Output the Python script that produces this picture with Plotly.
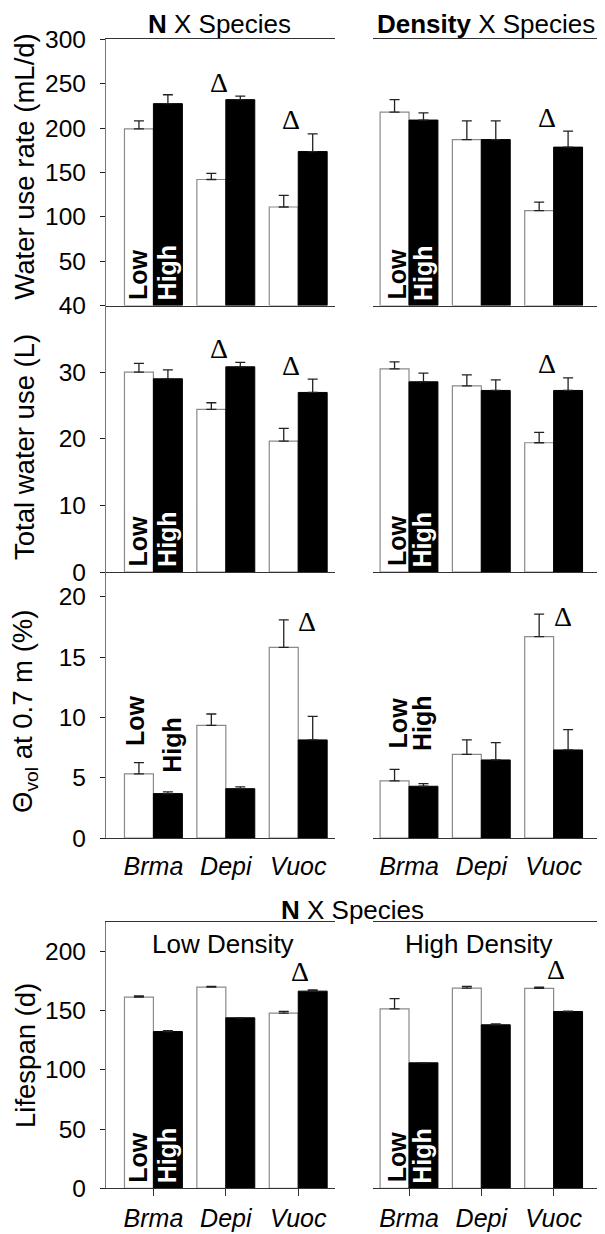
import plotly.graph_objects as go

# ---------------- data ----------------
species = ["Brma", "Depi", "Vuoc"]

rate_n_low = [199, 142, 111]
rate_n_low_se = [9, 7, 13]
rate_n_high = [227.5, 232, 173.5]
rate_n_high_se = [10, 4, 20]
rate_d_low = [218, 187, 107]
rate_d_low_se = [14, 21, 9.5]
rate_d_high = [209, 187, 178.5]
rate_d_high_se = [8, 21, 18]

total_n_low = [30.0, 24.4, 19.65]
total_n_low_se = [1.3, 1.0, 1.9]
total_n_high = [29.0, 30.8, 26.95]
total_n_high_se = [1.35, 0.65, 2.0]
total_d_low = [30.5, 27.95, 19.4]
total_d_low_se = [1.05, 1.65, 1.55]
total_d_high = [28.55, 27.25, 27.25]
total_d_high_se = [1.3, 1.6, 1.9]

theta_n_low = [5.31, 9.34, 15.81]
theta_n_low_se = [0.94, 0.94, 2.27]
theta_n_high = [3.68, 4.09, 8.13]
theta_n_high_se = [0.14, 0.14, 1.96]
theta_d_low = [4.73, 6.94, 16.7]
theta_d_low_se = [0.96, 1.19, 1.85]
theta_d_high = [4.29, 6.47, 7.3]
theta_d_high_se = [0.22, 1.43, 1.68]

life_lowd_low = [161.3, 169.8, 147.8]
life_lowd_low_se = [1.0, 0.5, 1.5]
life_lowd_high = [132.3, 143.9, 166.4]
life_lowd_high_se = [0.8, 0.0, 1.0]
life_highd_low = [151.5, 168.9, 168.7]
life_highd_low_se = [8.5, 1.5, 1.0]
life_highd_high = [105.9, 138.0, 149.2]
life_highd_high_se = [0.0, 0.8, 0.4]

# significant interaction (Δ) per species
rate_n_sig = [0, 1, 1]
rate_d_sig = [0, 0, 1]
total_n_sig = [0, 1, 1]
total_d_sig = [0, 0, 1]
theta_n_sig = [0, 0, 1]
theta_d_sig = [0, 0, 1]
life_lowd_sig = [0, 0, 1]
life_highd_sig = [0, 0, 1]

y_titles = ["Water use rate (mL/d)", "Total water use (L)",
            "Θ<sub>vol</sub> at 0.7 m (%)", "Lifespan (d)"]
y_ranges = [[0, 300], [0, 40], [0, 22.05], [0, 225]]
y_ticks = [[0, 50, 100, 150, 200, 250, 300], [0, 10, 20, 30, 40],
           [0, 5, 10, 15, 20], [0, 50, 100, 150, 200]]

panels = [
    [(rate_n_low, rate_n_low_se, rate_n_high, rate_n_high_se, rate_n_sig),
     (rate_d_low, rate_d_low_se, rate_d_high, rate_d_high_se, rate_d_sig)],
    [(total_n_low, total_n_low_se, total_n_high, total_n_high_se, total_n_sig),
     (total_d_low, total_d_low_se, total_d_high, total_d_high_se, total_d_sig)],
    [(theta_n_low, theta_n_low_se, theta_n_high, theta_n_high_se, theta_n_sig),
     (theta_d_low, theta_d_low_se, theta_d_high, theta_d_high_se, theta_d_sig)],
    [(life_lowd_low, life_lowd_low_se, life_lowd_high, life_lowd_high_se, life_lowd_sig),
     (life_highd_low, life_highd_low_se, life_highd_high, life_highd_high_se, life_highd_sig)],
]

# ---------------- layout geometry (screen pixels) ----------------
OFF = 8                      # browser default body margin
W, H = 605 - OFF, 1234 - OFF
FONT = "Liberation Sans"
SERIF = "Liberation Serif"
x_px = [(106, 335), (373, 602)]
x_rng = [[-0.655, 2.508], [-0.498, 2.669]]
y_px = [(39.3, 305.5), (305.5, 572), (572, 838), (921.7, 1188.3)]

def px_x(a):
    return (a - OFF) / W

def px_y(a):
    return 1 - (a - OFF) / H

def xd(a, b):
    return [px_x(a), px_x(b)]

def yd(top, bot):
    return [px_y(bot), px_y(top)]

fig = go.Figure()
layout = dict(
    width=W, height=H, margin=dict(l=0, r=0, t=0, b=0),
    template="none", paper_bgcolor="white", plot_bgcolor="white",
    showlegend=False, barmode="group", bargap=0.2, bargroupgap=0,
    font=dict(family=FONT, size=24, color="black"),
)
annotations = []

# Δ placement style per panel: (xshift, yshift)
delta_style = [(-7, 14), (-7, 14), (9, -2), (2, 18)]

for p in range(4):
    for s in range(2):
        k = p * 2 + s + 1
        xa, ya = f"x{k}", f"y{k}"
        low, low_se, high, high_se, sig = panels[p][s]
        fig.add_trace(go.Bar(
            x=[0, 1, 2], y=low, xaxis=xa, yaxis=ya,
            marker=dict(color="white", line=dict(color="#8a8a8a", width=1.2)),
            error_y=dict(type="data", array=low_se, arrayminus=[0, 0, 0],
                         symmetric=False, color="#222", thickness=1.3, width=5),
        ))
        fig.add_trace(go.Bar(
            x=[0, 1, 2], y=high, xaxis=xa, yaxis=ya,
            marker=dict(color="black", line=dict(color="black", width=1)),
            error_y=dict(type="data", array=high_se, arrayminus=[0, 0, 0],
                         symmetric=False, color="#222", thickness=1.3, width=5),
        ))
        show_xlab = p >= 2
        layout[f"xaxis{k}"] = dict(
            domain=xd(*x_px[s]), range=x_rng[s], anchor=ya,
            showline=True, linecolor="#333", linewidth=1.2,
            mirror=(p in (0, 3)), showgrid=False, zeroline=False,
            tickvals=[0, 1, 2], ticktext=[f"<i>{sp}</i>" for sp in species],
            showticklabels=show_xlab,
            ticks="outside" if p == 3 else "", ticklen=7, tickcolor="#333",
            tickfont=dict(size=25), ticklabelstandoff=1 if p == 3 else 6,
            fixedrange=True,
        )
        ydict = dict(
            domain=yd(*y_px[p]), range=y_ranges[p], anchor=xa,
            showline=True, showgrid=False, zeroline=False,
            tickvals=y_ticks[p], ticks="outside", fixedrange=True,
        )
        if s == 0:
            ydict.update(side="left", linecolor="#777", linewidth=1.2,
                         ticklen=5, tickcolor="#222", showticklabels=True,
                         tickfont=dict(size=24.5), ticklabelstandoff=9)
            if p == 0:
                # the 0 position is labelled by the panel below (its "40")
                ydict["tickvals"] = y_ticks[p][1:]
        else:
            ydict.update(side="right", linecolor="black", linewidth=1.2,
                         ticklen=4, tickcolor="black", showticklabels=False)
        layout[f"yaxis{k}"] = ydict

        # Δ markers
        dxs, dys = delta_style[p]
        for i, flag in enumerate(sig):
            if flag:
                top = max(low[i] + low_se[i], high[i] + high_se[i])
                annotations.append(dict(
                    x=i, y=top, xref=xa, yref=ya, text="Δ", showarrow=False,
                    xanchor="center", yanchor="middle", xshift=dxs, yshift=dys,
                    font=dict(family=SERIF, size=28, color="black"),
                ))

        # Low / High labels on the first species
        if p == 2:
            if s == 0:
                specs = [("Low", -0.2, low[0] + low_se[0], -4, 15, "black"),
                         ("High", 0.2, high[0] + high_se[0], 4, 17, "black")]
            else:
                specs = [("Low", -0.2, low[0] + low_se[0], 3, 19, "black"),
                         ("High", 0.2, high[0] + high_se[0], -2, 31, "black")]
        else:
            specs = [("Low", -0.2, 0, -1 if s == 0 else 2, 4, "black"),
                     ("High", 0.2, 0, -1, 3, "white")]
        for txt, xx, yy, xs, ys, col in specs:
            annotations.append(dict(
                x=xx, y=yy, xref=xa, yref=ya, text=f"<b>{txt}</b>",
                showarrow=False, textangle=-90, xanchor="center",
                yanchor="bottom", xshift=xs, yshift=ys,
                font=dict(family=FONT, size=25, color=col),
            ))

# y-axis titles
title_centers = [166.7, 447, 712, 1056]
for p in range(4):
    annotations.append(dict(
        x=px_x(25), y=px_y(title_centers[p]), xref="paper", yref="paper",
        text=y_titles[p], showarrow=False, textangle=-90,
        xanchor="center", yanchor="middle",
        font=dict(family=FONT, size=27.5, color="black"),
    ))

# panel headers
headers = [("<b>N</b> X Species", 219, 24), ("<b>Density</b> X Species", 486, 24),
           ("<b>N</b> X Species", 353, 910), ("Low Density", 223, 944),
           ("High Density", 478.5, 944)]
for txt, hx, hy in headers:
    annotations.append(dict(
        x=px_x(hx), y=px_y(hy), xref="paper", yref="paper", text=txt,
        showarrow=False, xanchor="center", yanchor="middle",
        font=dict(family=FONT, size=26, color="black"),
    ))

layout["annotations"] = annotations
fig.update_layout(**layout)
fig.write_html("out.html")
